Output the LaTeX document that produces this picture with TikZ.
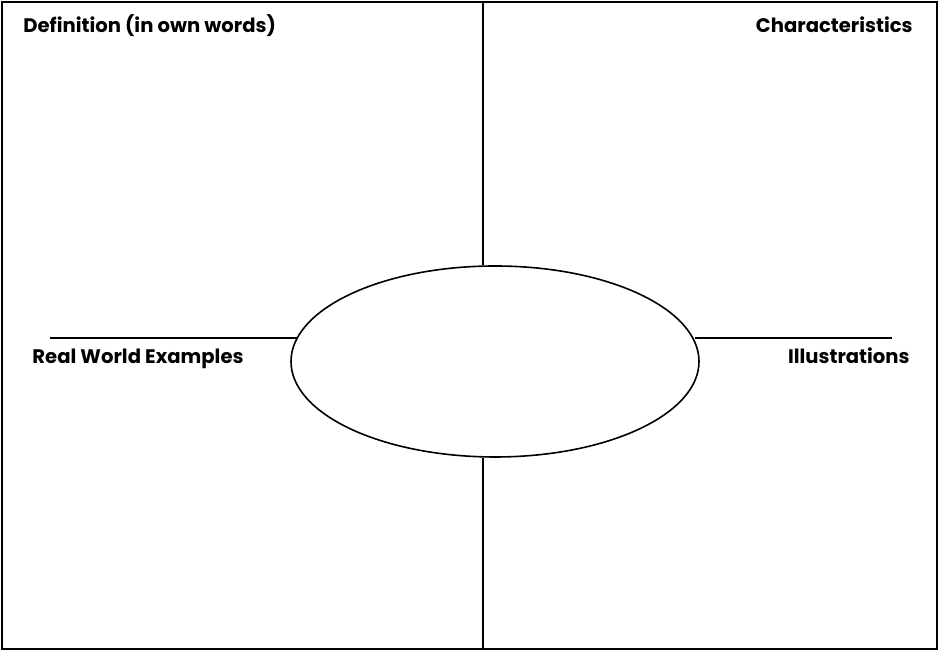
\documentclass[tikz,border=0pt]{standalone}
\usepackage{fontspec}
\setmainfont{Poppins}
\usepackage{tikz}
\usetikzlibrary{shapes.geometric}
\tikzset{
  quadlabel/.style={inner sep=0pt,font=\fontsize{9.8}{11}\selectfont\bfseries},
  frameline/.style={line width=1.2pt,black},
  armline/.style={line width=0.8pt,black}
}

\begin{document}
\begin{tikzpicture}[x=0.5pt,y=0.5pt]
    \useasboundingbox (0,0) rectangle (939,652);
    \draw[frameline] (2,3) rectangle (937,650);
    \node[draw,armline,ellipse,inner sep=0pt,minimum width=204pt,minimum height=95.5pt] (oval) at (495,290.5) {};
    \coordinate (topmid) at (483,650);
    \coordinate (botmid) at (483,3);
    \coordinate (leftend) at (50,314);
    \coordinate (rightend) at (892,314);
    \draw[armline] (topmid) -- (topmid |- oval.north);
    \draw[armline] (botmid) -- (botmid |- oval.south);
    \draw[armline] (leftend) -- (leftend -| oval.173.2);
    \draw[armline] (rightend -| oval.6.8) -- (rightend);
    \node[quadlabel,anchor=base west] (defn) at (23,619) {Definition (in own words)};
    \node[quadlabel,anchor=base east] (chars) at (913,619) {Characteristics};
    \node[quadlabel,anchor=base west] (realw) at (32,288) {Real World Examples};
    \node[quadlabel,anchor=base east] (illus) at (910,288) {Illustrations};
  \end{tikzpicture}
\end{document}
